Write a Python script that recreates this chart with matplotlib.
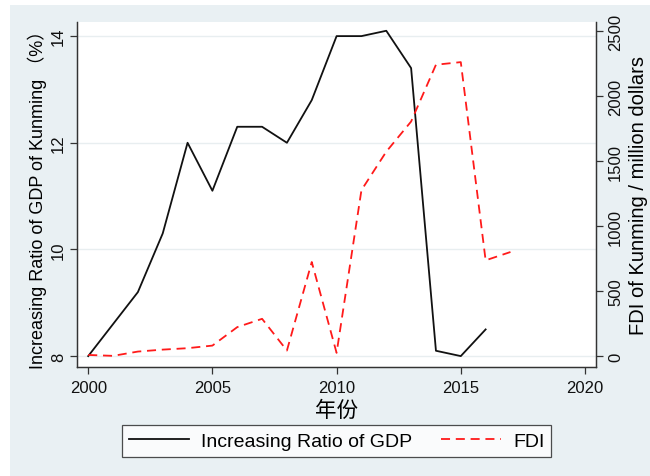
import matplotlib
matplotlib.use("Agg")
import matplotlib.pyplot as plt
from matplotlib.patches import Rectangle

plt.rcParams['font.family'] = ['Liberation Sans', 'Noto Sans CJK SC']

# 昆明 GDP 增长率 (%) 与 FDI (百万美元)
gdp_years = [2000, 2001, 2002, 2003, 2004, 2005, 2006, 2007, 2008,
             2009, 2010, 2011, 2012, 2013, 2014, 2015, 2016]
gdp_ratio = [8.0, 8.6, 9.2, 10.3, 12.0, 11.1, 12.3, 12.3, 12.0,
             12.8, 14.0, 14.0, 14.1, 13.4, 8.1, 8.0, 8.5]

fdi_years = [2000, 2001, 2002, 2003, 2004, 2005, 2006, 2007, 2008,
             2009, 2010, 2011, 2012, 2013, 2014, 2015, 2016, 2017]
fdi = [10, 3, 36, 51, 62, 82, 224, 288, 44,
       725, 26, 1278, 1574, 1806, 2243, 2263, 738, 802]

x_ticks = [2000, 2005, 2010, 2015, 2020]
left_ticks = [8, 10, 12, 14]
right_ticks = [0, 500, 1000, 1500, 2000, 2500]

bg = '#e9f0f3'
axis_col = '#333333'

fig = plt.figure(figsize=(6.5, 4.77), dpi=100)
fig.patch.set_facecolor('white')
fig.patches.append(Rectangle((10 / 650, 0), 1, 1 - 6 / 477, transform=fig.transFigure,
                             facecolor=bg, edgecolor='none', zorder=-10))

ax = fig.add_axes([0.1189, 0.2279, 0.7975, 0.7245])
ax.set_facecolor('white')
ax2 = ax.twinx()

l1, = ax.plot(gdp_years, gdp_ratio, color='#111111', lw=1.3,
              label='Increasing Ratio of GDP')
l2, = ax2.plot(fdi_years, fdi, color='#ff1a1a', lw=1.3, linestyle=(0, (5, 3.2)),
               label='FDI')

ax.set_xlim(1999.56, 2020.43)
ax.set_ylim(7.79, 14.27)
ax2.set_ylim(-85, 2574)

ax.set_xticks(x_ticks)
ax.set_yticks(left_ticks)
ax2.set_yticks(right_ticks)
ax.yaxis.grid(True, color='#e8eef0', lw=1.0)
ax.set_axisbelow(True)

for a in (ax, ax2):
    a.spines['top'].set_visible(False)
    for s in ('left', 'right', 'bottom'):
        a.spines[s].set_color(axis_col)
        a.spines[s].set_linewidth(0.9)
    a.tick_params(length=5, width=0.9, color=axis_col, labelsize=12,
                  labelcolor='#111111')

plt.setp(ax.get_yticklabels(), rotation=90, va='center')
plt.setp(ax2.get_yticklabels(), rotation=90, va='center')
ax.tick_params(axis='y', pad=3)
ax2.tick_params(axis='y', pad=4)
ax.tick_params(axis='x', pad=4)

ax.set_xlabel('年份', fontsize=15.5, labelpad=4)
ax.set_ylabel('Increasing Ratio of GDP of Kunming （%）', fontsize=13, labelpad=3)
ax2.set_ylabel('FDI of Kunming / million dollars', fontsize=14.5, labelpad=4)

leg = fig.legend(handles=[l1, l2], loc='center', bbox_to_anchor=(0.518, 0.0734),
                 ncol=2, fontsize=14, frameon=True, fancybox=False,
                 handlelength=3.1, handletextpad=0.6, columnspacing=1.5,
                 borderpad=0.35, borderaxespad=0)
leg.get_frame().set_edgecolor('#222222')
leg.get_frame().set_linewidth(0.9)

fig.savefig('out.png', dpi=100, facecolor=fig.get_facecolor())
